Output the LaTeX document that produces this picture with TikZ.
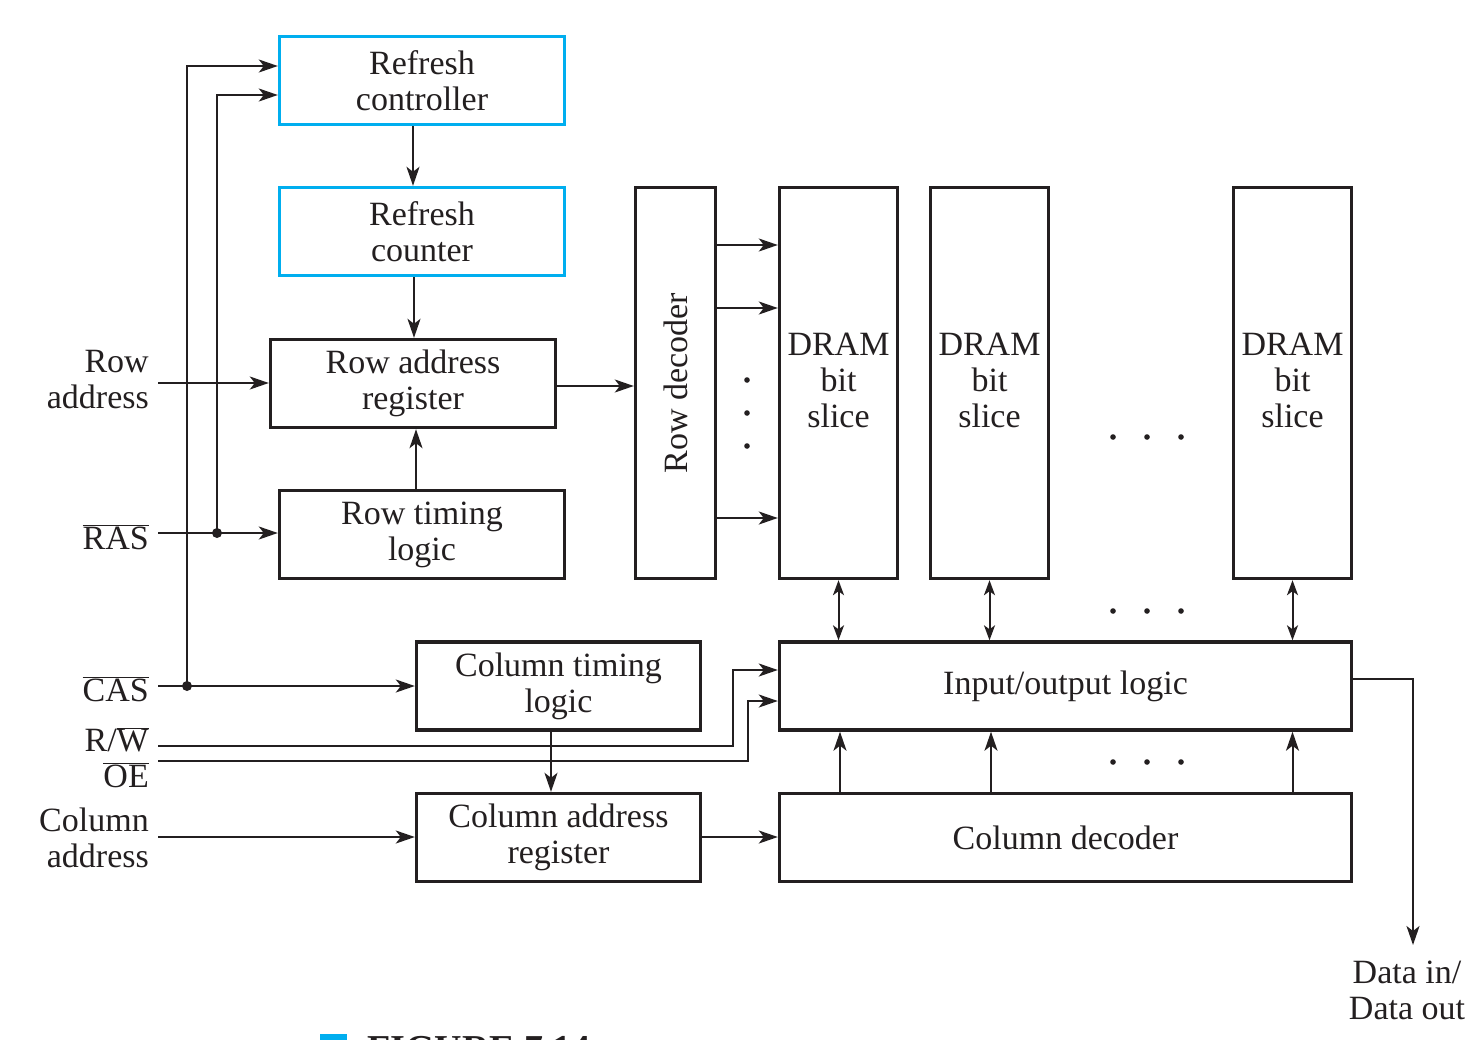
\documentclass[tikz,border=0pt]{standalone}
\usepackage{fontspec}
\setmainfont{Liberation Serif}
\usetikzlibrary{arrows.meta}
\definecolor{refblue}{RGB}{0,174,239}
\definecolor{ink}{RGB}{35,31,32}
\newcommand{\ovl}[1]{$\overline{\mbox{#1}}$}
\begin{document}
\begin{tikzpicture}[x=1pt,y=-1pt,
  every node/.style={font=\fontsize{34}{36}\selectfont, text=ink},
  box/.style={draw=ink, line width=3.4pt, inner sep=0pt, align=center, minimum width=285pt, minimum height=88pt},
  bluebox/.style={box, draw=refblue},
  tall/.style={draw=ink, line width=3.4pt, inner sep=0pt, align=center, minimum width=118pt, minimum height=391pt},
  wide/.style={box, minimum width=572pt},
  lbl/.style={anchor=east, align=right, inner sep=0pt},
  wire/.style={draw=ink, line width=2pt},
  arr/.style={wire, -{Stealth[length=19pt,width=13pt,inset=5pt]}},
  darr/.style={wire, {Stealth[length=15pt,width=11pt,inset=4pt]}-{Stealth[length=15pt,width=11pt,inset=4pt]}},
  dotc/.style={fill=ink}
]
\useasboundingbox (0,0) rectangle (1471,1039);

% boxes
\node[bluebox] (rc)   at (422,80.5)  {Refresh\\controller};
\node[bluebox] (rcnt) at (422,231.5) {Refresh\\counter};
\node[box]     (rar)  at (413,383.5) {Row address\\register};
\node[box]     (rtl)  at (422,534.5) {Row timing\\logic};
\node[tall, minimum width=80pt] (rd) at (675.5,383) {};
\node[rotate=90] (rdt) at (rd.center) {Row decoder};
\node[tall] (d1) at (838.5,383) {};
\node[tall] (d2) at (989.5,383) {};
\node[tall] (d3) at (1292.5,383) {};
\node[align=center] (d1t) at (838.5,380) {DRAM\\bit\\slice};
\node[align=center] (d2t) at (989.5,380) {DRAM\\bit\\slice};
\node[align=center] (d3t) at (1292.5,380) {DRAM\\bit\\slice};
\node[wide] (io)  at (1065.5,686)   {Input/output logic};
\node[wide] (cd)  at (1065.5,837.5) {Column decoder};
\node[box, minimum width=284pt] (ctl) at (558.5,686)   {Column timing\\logic};
\node[box, minimum width=284pt] (car) at (558.5,837.5) {Column address\\register};

% left labels
\node[lbl] (lrow) at (149,380) {Row\\address};
\node[lbl] (lras) at (149,537) {\ovl{RAS}};
\node[lbl] (lcas) at (149,689) {\ovl{CAS}};
\node[lbl] (lrw)  at (149,740) {R/\ovl{W}};
\node[lbl] (loe)  at (149,775) {\ovl{OE}};
\node[lbl] (lcol) at (149,838) {Column\\address};
\node[align=center, inner sep=0pt] (ldata) at (1407,990) {Data in/\\Data out};

\coordinate (rowin) at (158,383);
\coordinate (rasin) at (158,533);
\coordinate (casin) at (158,686);
\coordinate (rwin)  at (158,746);
\coordinate (oein)  at (158,761);
\coordinate (colin) at (158,837);
\coordinate (rasj)  at (217,533);
\coordinate (casj)  at (187,686);
\coordinate (dout)  at (1413,945);

% refresh chain
\draw[arr] ([xshift=-9pt]rc.south) -- ([xshift=-9pt]rcnt.north);
\draw[arr] ([xshift=-8pt]rcnt.south) -- ([xshift=1pt]rar.north);
\draw[arr] ([xshift=-6pt]rtl.north) -- ([xshift=3pt]rar.south);
\draw[arr] ([yshift=-2.5pt]rar.east) -- ([yshift=-2.5pt]rar.east -| rd.west);

% row decoder outputs
\draw[arr] ([yshift=138pt]rd.east) -- ([yshift=138pt]rd.east -| d1.west);
\draw[arr] ([yshift=75pt]rd.east) -- ([yshift=75pt]rd.east -| d1.west);
\draw[arr] ([yshift=-135pt]rd.east) -- ([yshift=-135pt]rd.east -| d1.west);

% inputs
\draw[arr] (rowin) -- (rowin -| rar.west);
\draw[arr] (rasin) -- (rasin -| rtl.west);
\draw[arr] (casin) -- (casin -| ctl.west);
\draw[arr] (colin) -- (colin -| car.west);
\draw[arr] (rasj) |- ([yshift=-14.5pt]rc.west);
\draw[arr] (casj) |- ([yshift=14.5pt]rc.west);
\fill[dotc] (rasj) circle (5pt);
\fill[dotc] (casj) circle (5pt);
\draw[arr] (rwin) -- (733,746) |- ([yshift=16pt]io.west);
\draw[arr] (oein) -- (748,761) |- ([yshift=-15pt]io.west);
\draw[arr] (ctl.south -| 551,0) -- (car.north -| 551,0);
\draw[arr] (car.east |- colin) -- (cd.west |- colin);

% bit slices <-> IO
\draw[darr] (d1.south) -- (d1.south |- io.north);
\draw[darr] (d2.south) -- (d2.south |- io.north);
\draw[darr] (d3.south) -- (d3.south |- io.north);
\draw[arr] (cd.north -| 840,0) -- (io.south -| 840,0);
\draw[arr] (cd.north -| 991,0) -- (io.south -| 991,0);
\draw[arr] (cd.north -| d3.south) -- (io.south -| d3.south);

% data out
\draw[arr] ([yshift=7pt]io.east) -| (dout);

% ellipsis dots
\foreach \y in {380,413,446} \fill[dotc] (747,\y) circle (2.8pt);
\foreach \y in {437,611,762} \foreach \x in {1113,1147,1181} \fill[dotc] (\x,\y) circle (2.8pt);

% caption, cut off at the lower edge as in the reference
\fill[refblue] (320,1034) rectangle (347,1060);
\node[anchor=base west, inner sep=0pt, font=\fontsize{38}{40}\selectfont\bfseries] (cap) at (367,1061) {FIGURE 7.14};
\end{tikzpicture}
\end{document}
